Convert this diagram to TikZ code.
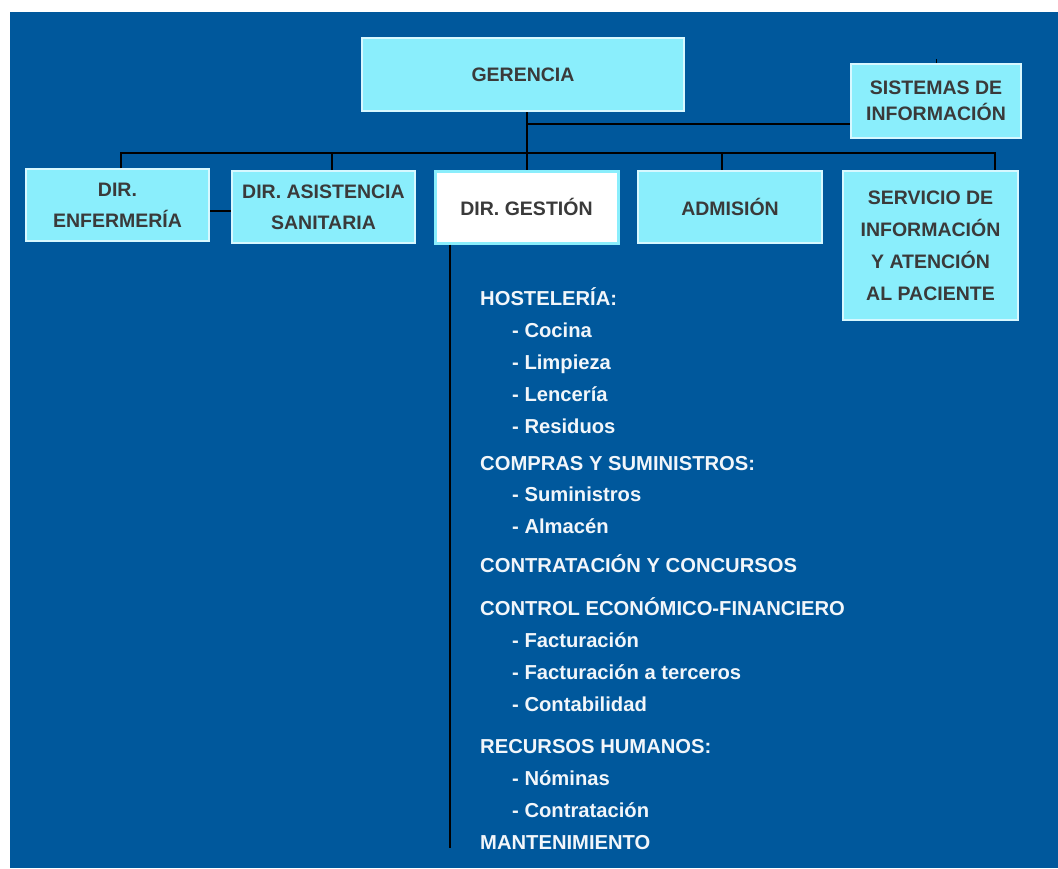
\documentclass[tikz,border=0pt]{standalone}
\usepackage{fontspec}
\setmainfont{Liberation Sans}
\definecolor{bgblue}{RGB}{0,88,156}
\definecolor{boxcyan}{RGB}{138,238,252}
\definecolor{boxline}{RGB}{215,248,255}
\definecolor{boxtext}{RGB}{58,58,58}
\definecolor{itemwhite}{RGB}{242,246,250}

\begin{document}
\begin{tikzpicture}[x = 1pt, y = -1pt, font=\bfseries]
	\tikzstyle{boxStyle} = [draw = boxline, line width = 2pt, fill = boxcyan, text = boxtext, align = center, inner sep = 0pt, font = \fontsize{19.5}{31}\selectfont\bfseries]
	\tikzstyle{activeStyle} = [boxStyle, fill = white, draw = boxcyan, line width = 3pt]
	\tikzstyle{headStyle} = [anchor = base west, inner sep = 0pt, text = itemwhite, font = \fontsize{20.2}{24}\selectfont\bfseries]
	\tikzstyle{itemStyle} = [headStyle]
	\tikzstyle{linkStyle} = [draw = black, line width = 2pt]
	\useasboundingbox (0, 0) rectangle (1058, 868);
	\fill[bgblue] (10, 12) rectangle (1058, 868);
	% boxes
	\node[boxStyle, minimum width = 322pt, minimum height = 73pt] (ger) at (523, 74.5) {GERENCIA};
	\node[boxStyle, minimum width = 170pt, minimum height = 74pt, font = \fontsize{19.5}{26}\selectfont\bfseries] (sis) at (936, 101) {SISTEMAS DE\\INFORMACIÓN};
	\node[boxStyle, minimum width = 183pt, minimum height = 72pt] (enf) at (117.5, 205) {DIR.\\ENFERMERÍA};
	\node[boxStyle, minimum width = 183pt, minimum height = 72pt] (asi) at (323.5, 207) {DIR. ASISTENCIA\\SANITARIA};
	\node[activeStyle, minimum width = 183pt, minimum height = 72pt] (ges) at (526.5, 207) {DIR. GESTIÓN};
	\node[boxStyle, minimum width = 184pt, minimum height = 72pt] (adm) at (730, 207) {ADMISIÓN};
	\node[boxStyle, minimum width = 175pt, minimum height = 149pt, font = \fontsize{19.5}{32}\selectfont\bfseries] (ser) at (930.5, 245.5) {SERVICIO DE\\INFORMACIÓN\\Y ATENCIÓN\\AL PACIENTE};
	% junctions
	\coordinate (sisJ) at (527, 124);
	\coordinate (bus) at (527, 153);
	\coordinate (dEnf) at (121, 153);
	\coordinate (dAsi) at (332, 153);
	\coordinate (dAdm) at (722, 153);
	\coordinate (dSer) at (995, 153);
	\coordinate (sisTop) at (936, 59);
	\coordinate (gesEnd) at (450, 848);
	% connectors
	\draw[linkStyle] (ger.south -| bus) -- (bus |- ges.north);
	\draw[linkStyle] (sisJ) -- (sisJ -| sis.west);
	\draw[linkStyle, line width = 1pt] (sisTop) -- (sis.north);
	\draw[linkStyle] (dEnf |- enf.north) -- (dEnf) -- (dSer) -- (dSer |- ser.north);
	\draw[linkStyle] (dAsi) -- (dAsi |- asi.north);
	\draw[linkStyle] (dAdm) -- (dAdm |- adm.north);
	\draw[linkStyle] ([yshift = -6pt]enf.east) -- ([yshift = -6pt]enf.east -| asi.west);
	\draw[linkStyle] (ges.south -| gesEnd) -- (gesEnd);
	% areas of DIR. GESTION
	\node[headStyle] (hos) at (480, 305) {HOSTELERÍA:};
	\node[itemStyle] (hos1) at (512, 337) {- Cocina};
	\node[itemStyle] (hos2) at (512, 369) {- Limpieza};
	\node[itemStyle] (hos3) at (512, 401) {- Lencería};
	\node[itemStyle] (hos4) at (512, 433) {- Residuos};
	\node[headStyle] (com) at (480, 470) {COMPRAS Y SUMINISTROS:};
	\node[itemStyle] (com1) at (512, 501) {- Suministros};
	\node[itemStyle] (com2) at (512, 533) {- Almacén};
	\node[headStyle] (con) at (480, 572) {CONTRATACIÓN Y CONCURSOS};
	\node[headStyle] (eco) at (480, 615) {CONTROL ECONÓMICO-FINANCIERO};
	\node[itemStyle] (eco1) at (512, 647) {- Facturación};
	\node[itemStyle] (eco2) at (512, 679) {- Facturación a terceros};
	\node[itemStyle] (eco3) at (512, 711) {- Contabilidad};
	\node[headStyle] (rrh) at (480, 753) {RECURSOS HUMANOS:};
	\node[itemStyle] (rrh1) at (512, 785) {- Nóminas};
	\node[itemStyle] (rrh2) at (512, 817) {- Contratación};
	\node[headStyle] (man) at (480, 849) {MANTENIMIENTO};
\end{tikzpicture}
\end{document}
